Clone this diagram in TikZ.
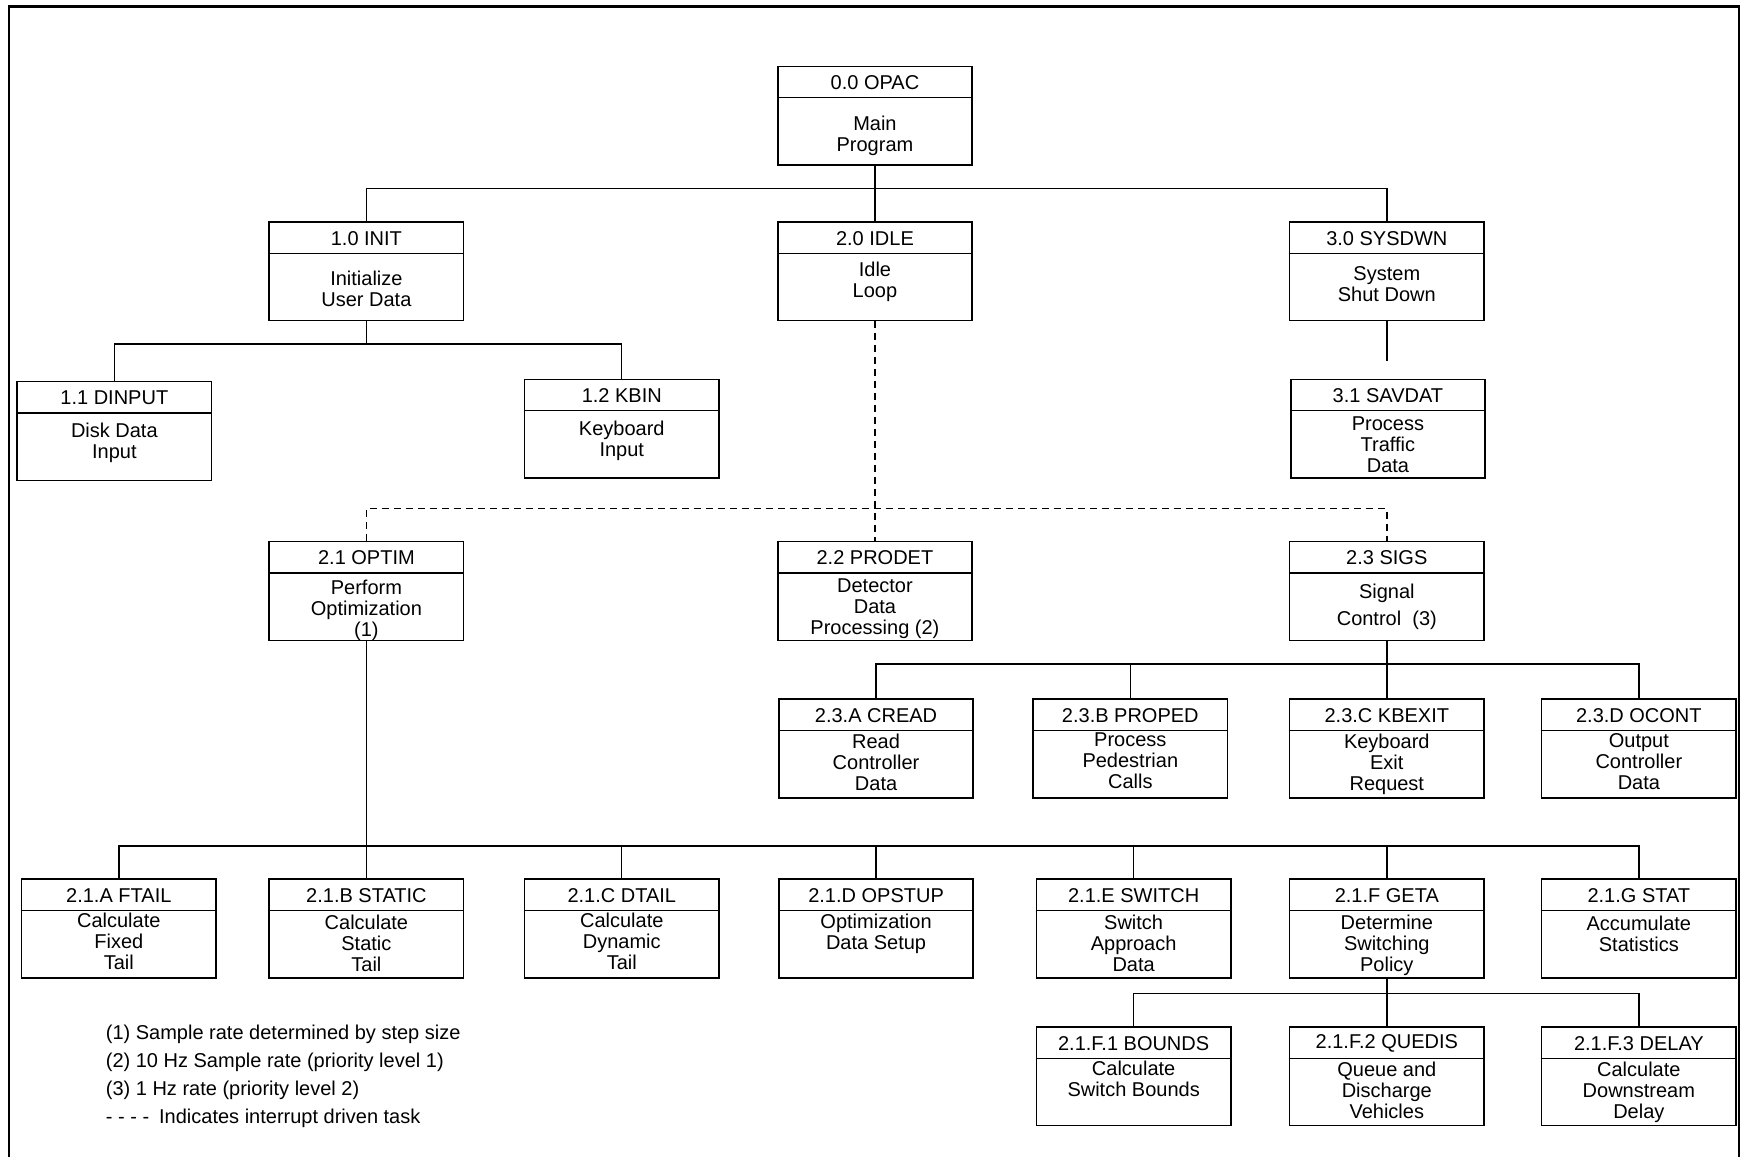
\documentclass[tikz,border=0pt]{standalone}
\usepackage{fontspec}
\setmainfont{Liberation Sans}
\usetikzlibrary{calc}
\tikzset{
  tbox/.style={draw, line width=0.8pt, minimum width=97.2pt, minimum height=49.4pt, inner sep=0pt, anchor=north},
  divider/.style={line width=0.6pt},
  ttext/.style={font=\fontsize{10}{10}\selectfont, inner sep=0pt},
  btext/.style={font=\fontsize{10}{10.5}\selectfont, align=center, inner sep=0pt, anchor=north},
  conn/.style={line width=0.7pt},
  intr/.style={conn, dash pattern=on 3.5pt off 2.5pt},
  frameline/.style={line width=1.3pt},
  legendtext/.style={font=\fontsize{10}{13.9}\selectfont, align=left, inner sep=0pt, anchor=north west},
}
\newcommand{\taskbox}[6]{%
  \node[tbox] (#1) at (#2,#3) {};
  \draw[divider] ($(#1.north west)+(0,29)$) -- ($(#1.north east)+(0,29)$);
  \node[ttext] (#1-t) at ($(#1.north)+(0,15.5)$) {#4};
  \node[btext] (#1-b) at ($(#1.north)+(0,#6)$) {#5};
}
\begin{document}
\begin{tikzpicture}[x=0.5552pt, y=-0.5552pt]
\useasboundingbox (0,0) rectangle (1568,1042);
\draw[frameline] (8,1042) -- (8,6) -- (1566,6) -- (1566,1042);

% level 0
\taskbox{opac}{788}{59}{0.0 OPAC}{Main\\Program}{45}
% level 1
\taskbox{init}{330}{199}{1.0 INIT}{Initialize\\User Data}{45}
\taskbox{idle}{788}{199}{2.0 IDLE}{Idle\\Loop}{37}
\taskbox{sysdwn}{1249}{199}{3.0 SYSDWN}{System\\Shut Down}{41}
% level 1 children
\taskbox{dinput}{103}{343}{1.1 DINPUT}{Disk Data\\Input}{38}
\taskbox{kbin}{560}{341}{1.2 KBIN}{Keyboard\\Input}{38}
\taskbox{savdat}{1250}{341}{3.1 SAVDAT}{Process\\Traffic\\Data}{34}
% idle children
\taskbox{optim}{330}{487}{2.1 OPTIM}{Perform\\Optimization\\(1)}{35}
\taskbox{prodet}{788}{487}{2.2 PRODET}{Detector\\Data\\Processing (2)}{34}
\taskbox{sigs}{1249}{487}{2.3 SIGS}{Signal\\[3pt]Control\ \ (3)}{39}
% sigs children
\taskbox{cread}{789}{629}{2.3.A CREAD}{Read\\Controller\\Data}{32}
\taskbox{proped}{1018}{629}{2.3.B PROPED}{Process\\Pedestrian\\Calls}{31}
\taskbox{kbexit}{1249}{629}{2.3.C KBEXIT}{Keyboard\\Exit\\Request}{32}
\taskbox{ocont}{1476}{629}{2.3.D OCONT}{Output\\Controller\\Data}{31}
% optim children
\taskbox{ftail}{107}{791}{2.1.A FTAIL}{Calculate\\Fixed\\Tail}{31}
\taskbox{static}{330}{791}{2.1.B STATIC}{Calculate\\Static\\Tail}{33}
\taskbox{dtail}{560}{791}{2.1.C DTAIL}{Calculate\\Dynamic\\Tail}{31}
\taskbox{opstup}{789}{791}{2.1.D OPSTUP}{Optimization\\Data Setup}{32}
\taskbox{switch}{1021}{791}{2.1.E SWITCH}{Switch\\Approach\\Data}{33}
\taskbox{geta}{1249}{791}{2.1.F GETA}{Determine\\Switching\\Policy}{33}
\taskbox{stat}{1476}{791}{2.1.G STAT}{Accumulate\\Statistics}{34}
% geta children
\taskbox{bounds}{1021}{924}{2.1.F.1 BOUNDS}{Calculate\\Switch Bounds}{31}
\taskbox{quedis}{1249}{924}{2.1.F.2 QUEDIS}{Queue and\\Discharge\\Vehicles}{32}
\taskbox{delay}{1476}{924}{2.1.F.3 DELAY}{Calculate\\Downstream\\Delay}{32}

% connectors
\coordinate (b0) at (788,170);
\draw[conn] (opac.south) -- (idle.north);
\draw[conn] (init.north) |- (b0) -| (sysdwn.north);

\coordinate (b1) at (330,310);
\draw[conn] (init.south) -- (b1);
\draw[conn] (dinput.north) |- (b1) -| (kbin.north);

\coordinate (s31) at (1249,325);
\draw[conn] (sysdwn.south) -- (s31);

\coordinate (b2) at (788,458);
\draw[intr] (idle.south) -- (prodet.north);
\draw[intr] (optim.north) |- (b2) -| (sigs.north);

\coordinate (b3) at (1249,598);
\draw[conn] (sigs.south) -- (kbexit.north);
\draw[conn] (cread.north) |- (b3) -| (ocont.north);
\draw[conn] (proped.north) -- (proped.north |- b3);

\coordinate (b4) at (330,762);
\draw[conn] (optim.south) -- (static.north);
\draw[conn] (ftail.north) |- (b4) -| (stat.north);
\foreach \n in {dtail,opstup,switch,geta} \draw[conn] (\n.north) -- (\n.north |- b4);

\coordinate (b5) at (1249,895);
\draw[conn] (geta.south) -- (quedis.north);
\draw[conn] (bounds.north) |- (b5) -| (delay.north);

% legend
\node[legendtext] (legend) at (95,923) {(1) Sample rate determined by step size\\
(2) 10 Hz Sample rate (priority level 1)\\
(3) 1 Hz rate (priority level 2)\\
- - - -\hspace{5pt}Indicates interrupt driven task};
\end{tikzpicture}
\end{document}
